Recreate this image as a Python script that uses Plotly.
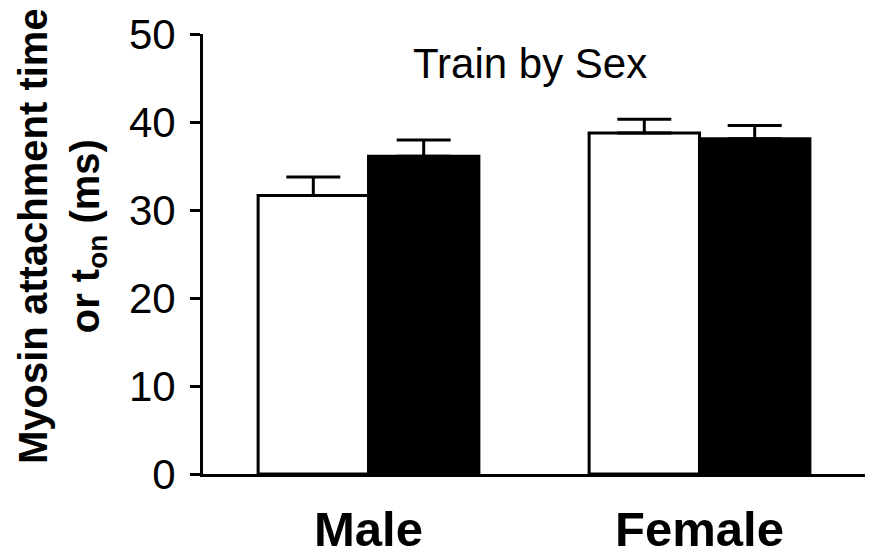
import plotly.graph_objects as go

categories = ["Male", "Female"]
x_pos = [0, 1]
untrained = [31.65, 38.75]
untrained_err = [2.1, 1.55]
trained = [36.1, 38.1]
trained_err = [1.85, 1.5]
y_ticks = [0, 10, 20, 30, 40, 50]

FONT = "Arial, 'Liberation Sans', Helvetica, sans-serif"

L, R, T, B = 203, 10, 34, 82
W, H = 875, 556

fig = go.Figure()
fig.add_trace(go.Bar(
    x=x_pos, y=untrained, name="Untrained",
    marker=dict(color="white", line=dict(color="black", width=3)),
    error_y=dict(type="data", array=untrained_err, arrayminus=[0, 0], symmetric=False,
                 color="black", thickness=3, width=27),
))
fig.add_trace(go.Bar(
    x=x_pos, y=trained, name="Trained",
    marker=dict(color="black", line=dict(color="black", width=3)),
    error_y=dict(type="data", array=trained_err, arrayminus=[0, 0], symmetric=False,
                 color="black", thickness=3, width=27),
))

plot_w = W - L - R
plot_h = H - T - B
def px_to_paper_x(px):
    return (px - L) / plot_w
def px_to_paper_y(py):
    return (H - B - py) / plot_h

fig.update_layout(
    width=W, height=H,
    margin=dict(l=L, r=R, t=T, b=B, pad=0, autoexpand=False),
    paper_bgcolor="white", plot_bgcolor="white",
    barmode="group", bargap=0.333, bargroupgap=0,
    showlegend=False,
    font=dict(family=FONT, color="black"),
    xaxis=dict(
        range=[-0.5, 1.5], tickvals=x_pos, ticktext=categories,
        showline=True, linecolor="black", linewidth=3,
        ticks="", showgrid=False, zeroline=False, automargin=False,
        tickfont=dict(size=49, family=FONT, weight="bold"),
        ticklabelstandoff=10,
    ),
    yaxis=dict(
        range=[0, 50], tickvals=y_ticks,
        showline=True, linecolor="black", linewidth=3,
        ticks="outside", ticklen=10, tickwidth=3, tickcolor="black",
        showgrid=False, zeroline=False, automargin=False,
        tickfont=dict(size=42, family=FONT),
        ticklabelstandoff=6,
    ),
    annotations=[
        dict(text="Train by Sex", xref="paper", yref="paper",
             x=px_to_paper_x(530), y=px_to_paper_y(63),
             xanchor="center", yanchor="middle",
             showarrow=False, font=dict(size=42, family=FONT)),
        dict(text="<b>Myosin attachment time<br>or t<sub>on</sub> (ms)</b>",
             textangle=-90, showarrow=False, xref="paper", yref="paper",
             x=px_to_paper_x(62), y=px_to_paper_y(236),
             xanchor="center", yanchor="middle",
             font=dict(size=40, family=FONT)),
    ],
)

fig.write_html("out.html", config={"displayModeBar": False},
               post_script="document.body.style.margin='0';document.body.style.overflow='hidden';")
